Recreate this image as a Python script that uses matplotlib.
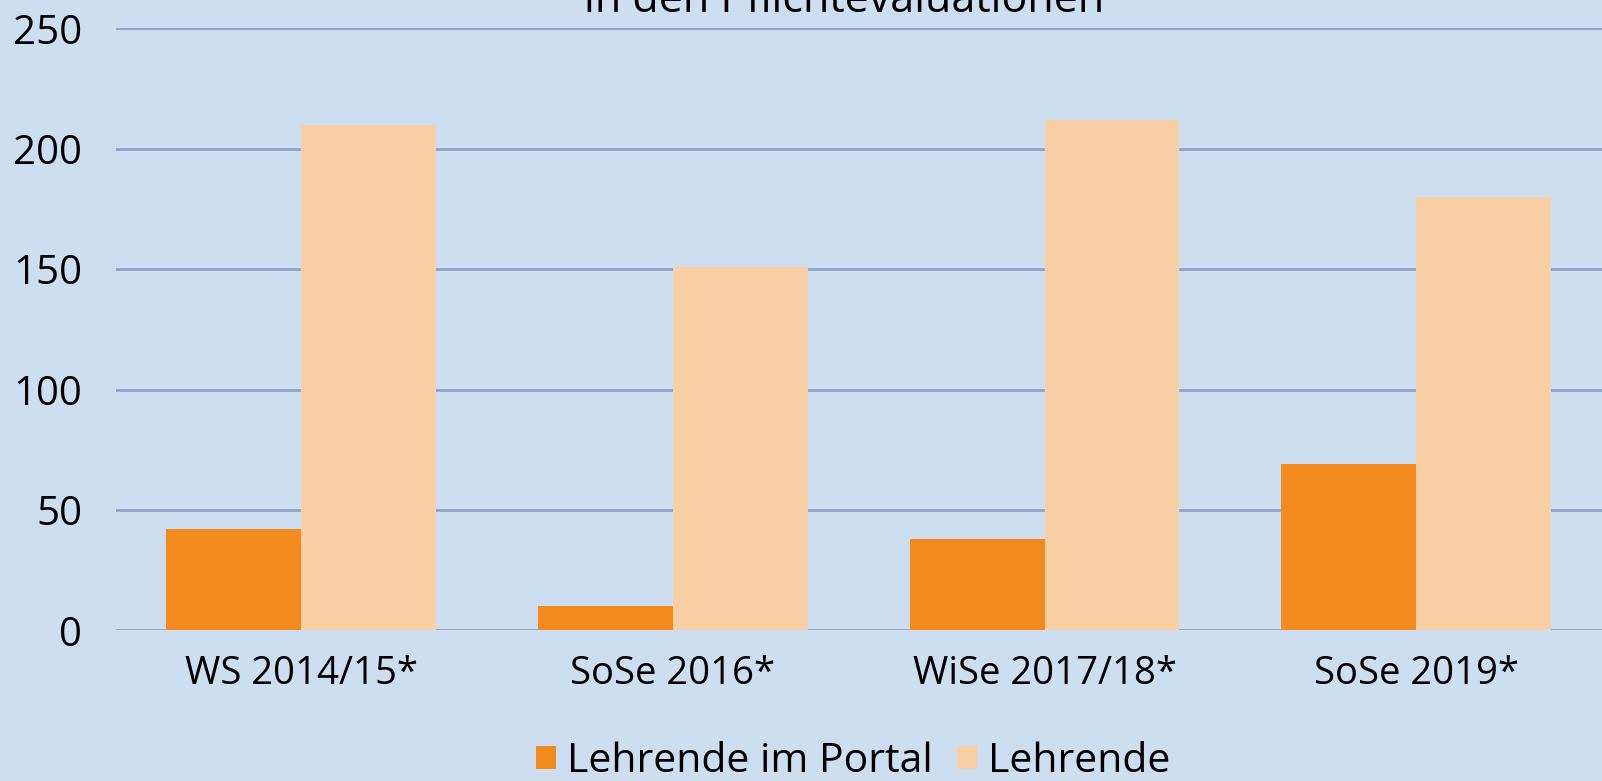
import matplotlib.pyplot as plt
import numpy as np

categories = ['WS 2014/15*', 'SoSe 2016*', 'WiSe 2017/18*', 'SoSe 2019*']
portal = [42, 10, 38, 69]
lehrende = [210, 151, 212, 180]
series_names = ['Lehrende im Portal', 'Lehrende']
yticks = [0, 50, 100, 150, 200, 250]

bg = '#CCDEF0'
plt.rcParams['font.family'] = ['Open Sans', 'DejaVu Sans']

fig = plt.figure(figsize=(16.02, 7.81), dpi=100, facecolor=bg)
ax = fig.add_axes([115.5 / 1602, 1 - 630.3 / 781, 1 - 115.5 / 1602, (630.3 - 28.3) / 781])
ax.set_facecolor(bg)

x = np.arange(len(categories))
w = 0.363
ax.bar(x - w / 2, portal, w, color='#F28A1E', label=series_names[0], zorder=3)
ax.bar(x + w / 2, lehrende, w, color='#F9CFA5', label=series_names[1], zorder=3)

ax.set_xlim(-0.5, len(categories) - 0.5)
ax.set_ylim(0, 250)
ax.set_yticks(yticks)
ax.yaxis.grid(True, color='#8EA2CE', linewidth=2, zorder=0)
ax.set_axisbelow(True)
for s in ax.spines.values():
    s.set_visible(False)
ax.tick_params(axis='both', length=0)
ax.tick_params(axis='y', labelsize=29, pad=24)
ax.set_xticks(x)
ax.set_xticklabels(categories)
ax.tick_params(axis='x', labelsize=27.5, pad=18)

fig.text(0.527, 1 - 12 / 781, 'in den Pflichtevaluationen', ha='center', va='baseline', fontsize=31)

fig.legend(loc='center', bbox_to_anchor=(853 / 1602, 1 - 762 / 781), ncol=2, frameon=False,
           fontsize=29.5, handlelength=0.5, handleheight=0.5, handletextpad=0.25, columnspacing=0.6)

fig.savefig('out.png', dpi=100, facecolor=bg)
